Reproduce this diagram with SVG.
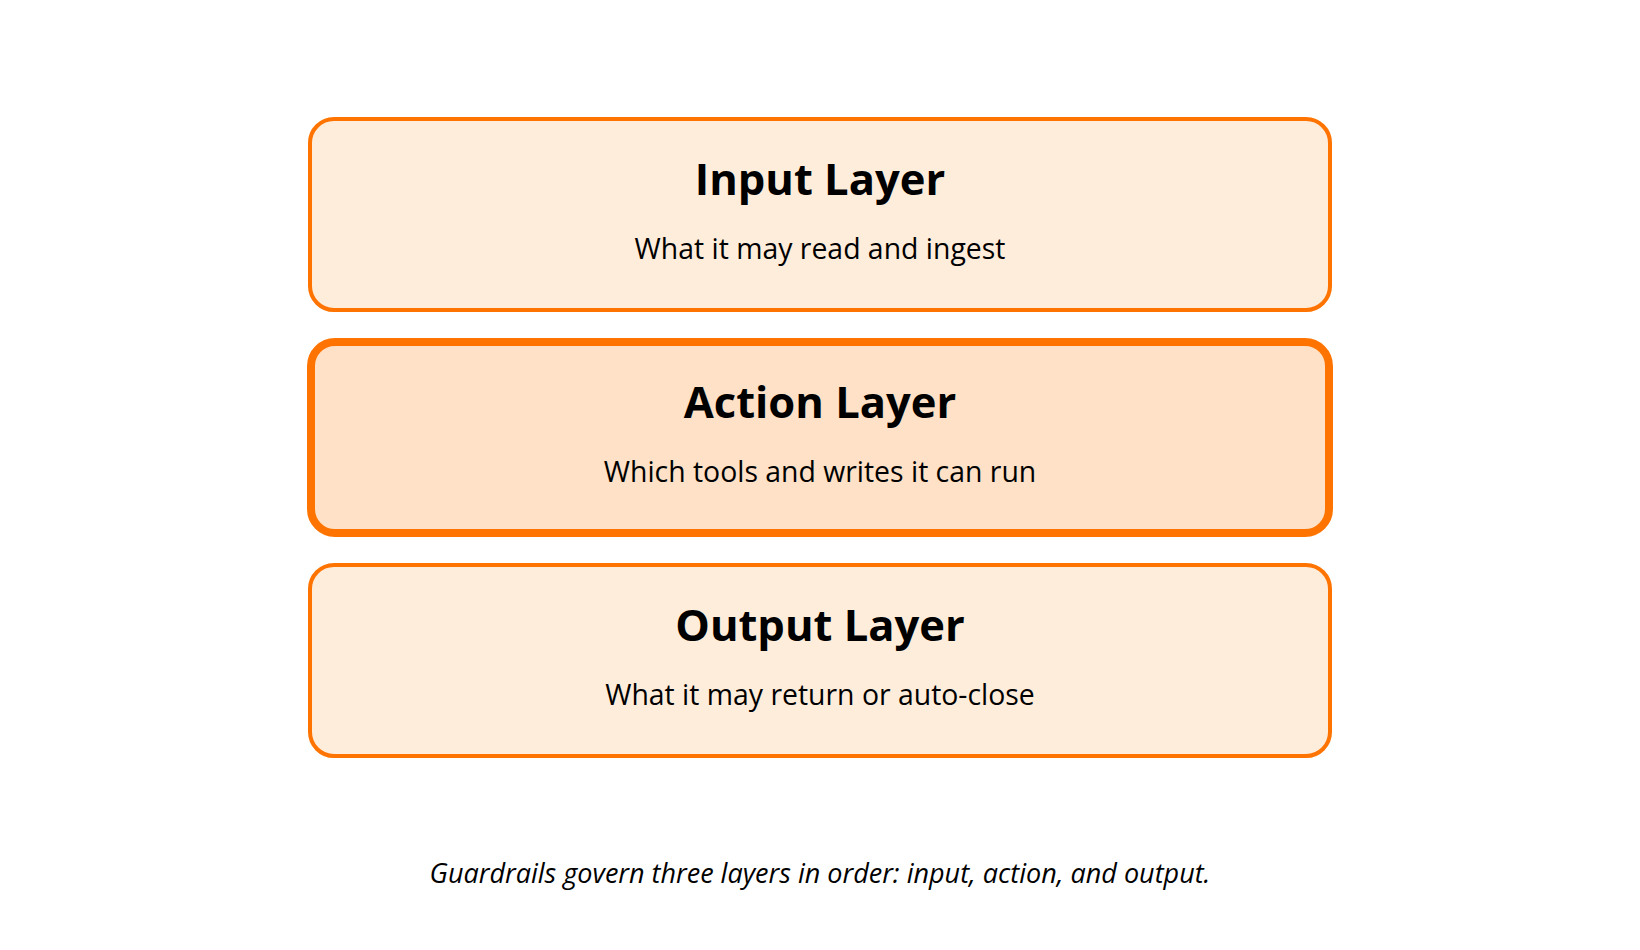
<svg xmlns="http://www.w3.org/2000/svg" width="1640" height="950" viewBox="0 0 1640 950">
<style>
.box{stroke:#FF7400;}
.t{font-family:"Open Sans","Noto Sans",sans-serif;font-weight:700;font-size:43.5px;fill:#000;text-anchor:middle;}
.s{font-family:"Open Sans","Noto Sans",sans-serif;font-size:28.4px;fill:#000;text-anchor:middle;}
.c{font-family:"Open Sans","Noto Sans",sans-serif;font-style:italic;font-size:27px;fill:#000;text-anchor:middle;}
</style>
<rect width="1640" height="950" fill="#fff"/>
<g id="connectors"></g>
<g id="input-layer">
<rect class="box" x="310" y="119" width="1020" height="191" rx="24" fill="#FFEDDB" stroke-width="4"/>
<text class="t" x="820" y="195">Input Layer</text>
<text class="s" x="820" y="259">What it may read and ingest</text>
</g>
<g id="action-layer">
<rect class="box" x="311" y="342" width="1018" height="191" rx="24" fill="#FEE1C6" stroke-width="8"/>
<text class="t" x="820" y="418">Action Layer</text>
<text class="s" x="820" y="482">Which tools and writes it can run</text>
</g>
<g id="output-layer">
<rect class="box" x="310" y="565" width="1020" height="191" rx="24" fill="#FFEDDB" stroke-width="4"/>
<text class="t" x="820" y="641">Output Layer</text>
<text class="s" x="820" y="705">What it may return or auto-close</text>
</g>
<text class="c" x="820" y="883">Guardrails govern three layers in order: input, action, and output.</text>
</svg>
